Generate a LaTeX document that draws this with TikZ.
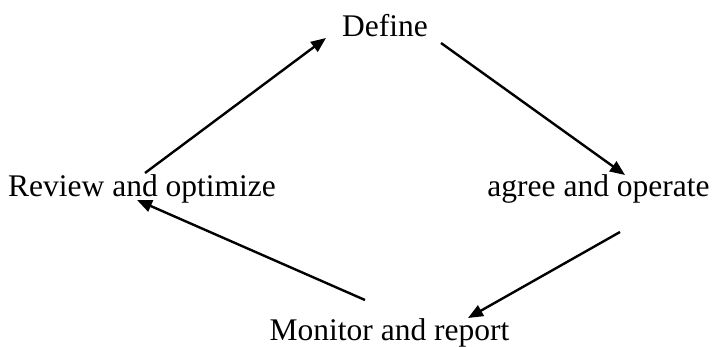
\documentclass[tikz,border=0pt]{standalone}
\usepackage{fontspec}
\setmainfont{Liberation Serif}
\usetikzlibrary{arrows.meta}
\begin{document}
\begin{tikzpicture}[x=1pt,y=-1pt,
  lbl/.style={inner sep=0pt,anchor=base,font=\fontsize{31.5}{36}\selectfont},
  arr/.style={line width=2.4pt,-{Triangle[length=15pt,width=12pt]}}]
\useasboundingbox (0,0) rectangle (722,347);
\node[lbl] (def) at (385,37) {Define};
\node[lbl] (rev) at (142,197) {Review and optimize};
\node[lbl] (agr) at (598.5,197) {agree and operate};
\node[lbl] (mon) at (389.5,340) {Monitor and report};
\draw[arr] ([shift={(3,-24)}]rev.base) -- ([shift={(-59,1)}]def.base);
\draw[arr] ([shift={(56,6)}]def.base) -- ([shift={(26.5,-22)}]agr.base);
\draw[arr] ([shift={(21.5,35)}]agr.base) -- ([shift={(78.5,-22)}]mon.base);
\draw[arr] ([shift={(-24.5,-40)}]mon.base) -- ([shift={(-5,3)}]rev.base);
\end{tikzpicture}
\end{document}
